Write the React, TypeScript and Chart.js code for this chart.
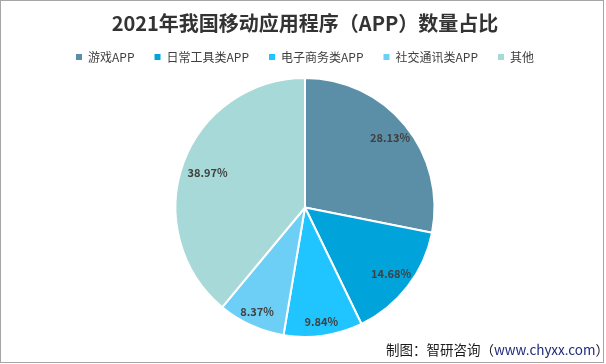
import React, { useEffect, useRef } from "react";
import { Chart, registerables } from "chart.js";

Chart.register(...registerables);

const TITLE = "2021年我国移动应用程序（APP）数量占比";
const categories = ["游戏APP", "日常工具类APP", "电子商务类APP", "社交通讯类APP", "其他"];
const shares = [28.13, 14.68, 9.84, 8.37, 38.97];
const colors = ["#5B8FA7", "#00A3DA", "#20C4FF", "#6DCFF6", "#A6D9D7"];
const labelRadiusFrac = [0.85, 0.84, 0.89, 0.89, 0.8];

const FONT = '"Noto Sans CJK SC", "Microsoft YaHei", sans-serif';

const dataLabelPlugin = {
  id: "sliceLabels",
  afterDatasetsDraw(chart: any) {
    const meta = chart.getDatasetMeta(0);
    const ctx = chart.ctx;
    ctx.save();
    ctx.font = `bold 11px ${FONT}`;
    ctx.fillStyle = "#404040";
    ctx.textAlign = "center";
    ctx.textBaseline = "middle";
    meta.data.forEach((arc: any, i: number) => {
      const { x, y, startAngle, endAngle, outerRadius } = arc.getProps(
        ["x", "y", "startAngle", "endAngle", "outerRadius"],
        true
      );
      const mid = (startAngle + endAngle) / 2;
      const r = outerRadius * labelRadiusFrac[i];
      ctx.fillText(shares[i].toFixed(2) + "%", x + Math.cos(mid) * r, y + Math.sin(mid) * r);
    });
    ctx.restore();
  },
};

const legendGapPlugin = {
  id: "legendGap",
  afterInit(chart: any) {
    const lg = chart.legend;
    if (!lg || lg.__patched) return;
    const orig = lg.fit.bind(lg);
    lg.fit = function () {
      orig();
      this.height += 4;
    };
    lg.__patched = true;
  },
};

export default function App() {
  const ref = useRef<HTMLCanvasElement | null>(null);
  useEffect(() => {
    if (!ref.current) return;
    const chart = new Chart(ref.current, {
      type: "pie",
      data: {
        labels: categories,
        datasets: [
          {
            data: shares,
            backgroundColor: colors,
            borderColor: "#ffffff",
            borderWidth: 2,
          },
        ],
      },
      options: {
        animation: false,
        responsive: false,
        maintainAspectRatio: false,
        layout: { padding: { left: 4, right: 0, top: 0, bottom: 26 } },
        plugins: {
          title: {
            display: true,
            text: TITLE,
            color: "#333333",
            font: { family: FONT, size: 20, weight: "bold", lineHeight: 1.2 },
            padding: { top: 11, bottom: -4 },
          },
          legend: {
            position: "top",
            labels: {
              boxWidth: 6,
              boxHeight: 6,
              padding: 20,
              color: "#404040",
              font: { family: FONT, size: 12 },
              generateLabels(chart: any) {
                const items = Chart.overrides.pie.plugins.legend.labels.generateLabels(chart);
                return items.map((it: any) => ({ ...it, lineWidth: 0, strokeStyle: "rgba(0,0,0,0)" }));
              },
            },
          },
          tooltip: { enabled: false },
        },
      },
      plugins: [legendGapPlugin, dataLabelPlugin],
    });
    return () => chart.destroy();
  }, []);

  return (
    <div
      style={{
        position: "fixed",
        left: 0,
        top: 0,
        width: 606,
        height: 364,
        background: "#ffffff",
        overflow: "hidden",
      }}
    >
      <canvas ref={ref} width={606} height={364} style={{ position: "absolute", left: 0, top: 0 }} />
      <div
        style={{
          position: "absolute",
          left: 0,
          top: 0,
          width: 604,
          height: 363,
          boxSizing: "border-box",
          border: "1px solid #A6A6A6",
          pointerEvents: "none",
        }}
      />
      <div
        style={{
          position: "absolute",
          right: -3,
          top: 340,
          fontFamily: FONT,
          fontSize: 13.5,
          lineHeight: "18px",
          color: "#1a1a1a",
          whiteSpace: "nowrap",
        }}
      >
        制图：智研咨询（<span style={{ color: "#1F2A7A" }}>www.chyxx.com</span>）
      </div>
    </div>
  );
}
